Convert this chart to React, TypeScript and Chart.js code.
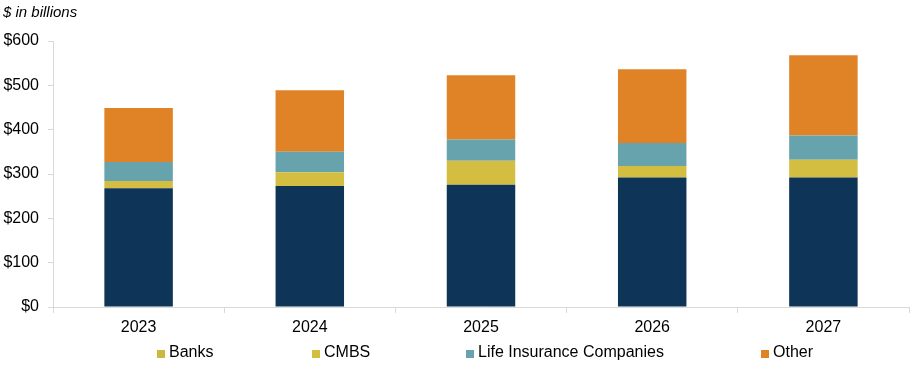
import React, { useEffect, useRef } from "react";
import { Chart, registerables } from "chart.js";

Chart.register(...registerables);

const categories = ["2023", "2024", "2025", "2026", "2027"];
const banks = [268, 273, 276, 292, 292];
const cmbs = [16, 31, 54, 26, 40];
const lifeInsurance = [43, 46, 48, 52, 55];
const other = [122, 139, 145, 166, 181];
const yTicks = [0, 100, 200, 300, 400, 500, 600];

const seriesNames = ["Banks", "CMBS", "Life Insurance Companies", "Other"];
const barColors = ["#0E3457", "#D3BE41", "#66A3AC", "#E08326"];
const legendColors = ["#CBB83C", "#D3BE41", "#66A3AC", "#E08326"];
const legendLefts = [157, 312, 466, 761];

const FONT = "'Liberation Sans', Arial, sans-serif";

export default function App() {
  const ref = useRef<HTMLCanvasElement | null>(null);

  useEffect(() => {
    document.body.style.margin = "0";
    if (!ref.current) return;
    const values = [banks, cmbs, lifeInsurance, other];
    const chart = new Chart(ref.current, {
      type: "bar",
      data: {
        labels: categories,
        datasets: seriesNames.map((name, i) => ({
          label: name,
          data: values[i],
          backgroundColor: barColors[i],
          borderWidth: 0,
          categoryPercentage: 1,
          barPercentage: 0.4,
        })),
      },
      options: {
        animation: false,
        responsive: false,
        maintainAspectRatio: false,
        layout: { padding: { top: 41, right: 11, left: 0, bottom: 0 } },
        plugins: {
          legend: { display: false },
          title: { display: false },
          tooltip: { enabled: false },
        },
        scales: {
          x: {
            stacked: true,
            border: { color: "#D9D9D9", width: 1 },
            grid: {
              drawOnChartArea: false,
              drawTicks: true,
              tickLength: 6,
              color: "#D9D9D9",
              offset: true,
            },
            ticks: {
              color: "#000000",
              font: { family: FONT, size: 16 },
              padding: 5,
            },
            afterFit: (scale: any) => {
              scale.height = 66;
            },
          },
          y: {
            stacked: true,
            min: 0,
            max: 600,
            border: { color: "#D9D9D9", width: 1 },
            grid: {
              drawOnChartArea: false,
              drawTicks: true,
              tickLength: 5,
              color: "#D9D9D9",
            },
            afterBuildTicks: (scale: any) => {
              scale.ticks = yTicks.map((v) => ({ value: v }));
            },
            ticks: {
              color: "#000000",
              font: { family: FONT, size: 16 },
              padding: 9,
              callback: (v: any) => "$" + v,
            },
            afterFit: (scale: any) => {
              scale.width = 53;
            },
          },
        },
      },
    });
    return () => chart.destroy();
  }, []);

  return (
    <div style={{ position: "relative", width: 920, height: 373, background: "#fff" }}>
      <canvas ref={ref} width={920} height={373} style={{ display: "block" }} />
      <div
        style={{
          position: "absolute",
          left: 3,
          top: 3,
          fontFamily: FONT,
          fontStyle: "italic",
          fontSize: 15,
          color: "#000",
          lineHeight: "18px",
        }}
      >
        $ in billions
      </div>
      {seriesNames.map((name, i) => (
        <div
          key={name}
          style={{
            position: "absolute",
            left: legendLefts[i],
            top: 343,
            height: 18,
            display: "flex",
            alignItems: "center",
            fontFamily: FONT,
            fontSize: 16,
            color: "#000",
            whiteSpace: "nowrap",
          }}
        >
          <span
            style={{
              display: "inline-block",
              width: 8,
              height: 8,
              background: legendColors[i],
              marginRight: 4,
              marginTop: 3,
            }}
          />
          {name}
        </div>
      ))}
    </div>
  );
}
